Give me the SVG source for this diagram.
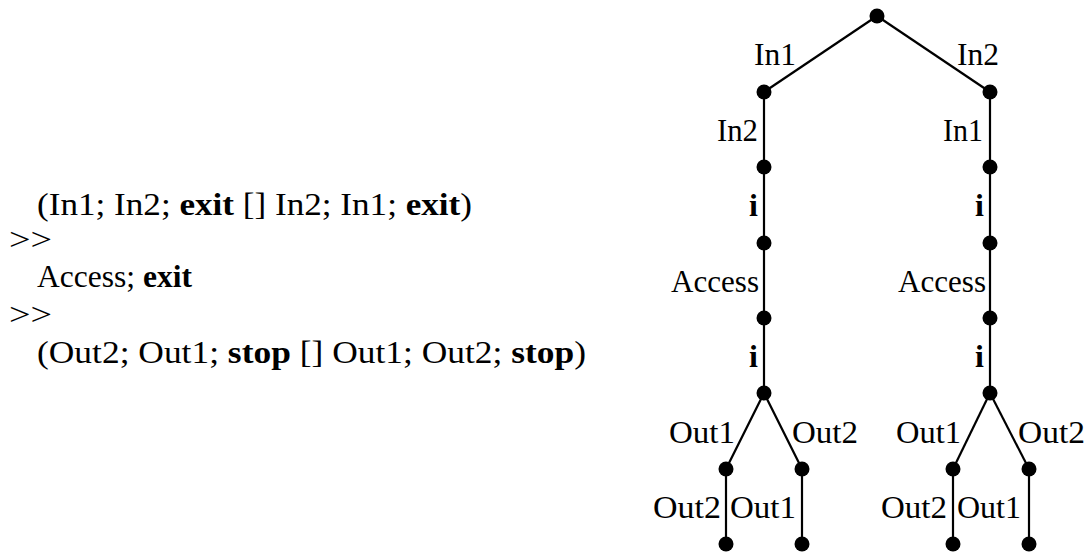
<svg xmlns="http://www.w3.org/2000/svg" width="1089" height="554" viewBox="0 0 1089 554">
<style>
  text { font-family: "Liberation Serif", "Times New Roman", serif; font-size: 32px; fill: #000; }
  .b { font-weight: bold; }
  .edge { stroke: #000; stroke-width: 2.2; fill: none; }
  .dot { fill: #000; }
</style>
<rect width="1089" height="554" fill="#fff"/>
<g id="expression">
  <text x="37" y="215" textLength="435" lengthAdjust="spacingAndGlyphs">(In1; In2; <tspan class="b">exit</tspan> [] In2; In1; <tspan class="b">exit</tspan>)</text>
  <text x="9" y="250" textLength="43" lengthAdjust="spacingAndGlyphs">&gt;&gt;</text>
  <text x="37" y="287" textLength="155" lengthAdjust="spacingAndGlyphs">Access; <tspan class="b">exit</tspan></text>
  <text x="9" y="325" textLength="43" lengthAdjust="spacingAndGlyphs">&gt;&gt;</text>
  <text x="37" y="363" textLength="549" lengthAdjust="spacingAndGlyphs">(Out2; Out1; <tspan class="b">stop</tspan> [] Out1; Out2; <tspan class="b">stop</tspan>)</text>
</g>
<g id="connectors">
  <line class="edge" x1="877" y1="16" x2="764" y2="92"/>
  <line class="edge" x1="877" y1="16" x2="990" y2="92"/>
  <line class="edge" x1="764" y1="92" x2="764" y2="393"/>
  <line class="edge" x1="990" y1="92" x2="990" y2="393"/>
  <line class="edge" x1="764" y1="393" x2="726" y2="469"/>
  <line class="edge" x1="764" y1="393" x2="802" y2="469"/>
  <line class="edge" x1="726" y1="469" x2="726" y2="544"/>
  <line class="edge" x1="802" y1="469" x2="802" y2="544"/>
  <line class="edge" x1="990" y1="393" x2="953" y2="469"/>
  <line class="edge" x1="990" y1="393" x2="1029" y2="469"/>
  <line class="edge" x1="953" y1="469" x2="953" y2="544"/>
  <line class="edge" x1="1029" y1="469" x2="1029" y2="544"/>
</g>
<g id="labels">
  <text x="754" y="65" textLength="42" lengthAdjust="spacingAndGlyphs">In1</text>
  <text x="957" y="65" textLength="42" lengthAdjust="spacingAndGlyphs">In2</text>
  <text x="717" y="141" textLength="41" lengthAdjust="spacingAndGlyphs">In2</text>
  <text x="943" y="141" textLength="40" lengthAdjust="spacingAndGlyphs">In1</text>
  <text class="b" x="758" y="216" text-anchor="end">i</text>
  <text class="b" x="984" y="216" text-anchor="end">i</text>
  <text x="671" y="292" textLength="88" lengthAdjust="spacingAndGlyphs">Access</text>
  <text x="898" y="292" textLength="88" lengthAdjust="spacingAndGlyphs">Access</text>
  <text class="b" x="758" y="367" text-anchor="end">i</text>
  <text class="b" x="984" y="367" text-anchor="end">i</text>
  <text x="669" y="443" textLength="66" lengthAdjust="spacingAndGlyphs">Out1</text>
  <text x="792" y="443" textLength="66" lengthAdjust="spacingAndGlyphs">Out2</text>
  <text x="896" y="443" textLength="65" lengthAdjust="spacingAndGlyphs">Out1</text>
  <text x="1018" y="443" textLength="67" lengthAdjust="spacingAndGlyphs">Out2</text>
  <text x="653" y="518" textLength="68" lengthAdjust="spacingAndGlyphs">Out2</text>
  <text x="730" y="518" textLength="66" lengthAdjust="spacingAndGlyphs">Out1</text>
  <text x="881" y="518" textLength="66" lengthAdjust="spacingAndGlyphs">Out2</text>
  <text x="957" y="518" textLength="64" lengthAdjust="spacingAndGlyphs">Out1</text>
</g>
<g id="n0"><circle class="dot" cx="877" cy="16" r="7.5"/></g>
<g id="nL1"><circle class="dot" cx="764" cy="92" r="7.5"/></g>
<g id="nL2"><circle class="dot" cx="764" cy="167" r="7.5"/></g>
<g id="nL3"><circle class="dot" cx="764" cy="243" r="7.5"/></g>
<g id="nL4"><circle class="dot" cx="764" cy="318" r="7.5"/></g>
<g id="nL5"><circle class="dot" cx="764" cy="393" r="7.5"/></g>
<g id="nL6a"><circle class="dot" cx="726" cy="469" r="7.5"/></g>
<g id="nL6b"><circle class="dot" cx="802" cy="469" r="7.5"/></g>
<g id="nL7a"><circle class="dot" cx="726" cy="544" r="7.5"/></g>
<g id="nL7b"><circle class="dot" cx="802" cy="544" r="7.5"/></g>
<g id="nR1"><circle class="dot" cx="990" cy="92" r="7.5"/></g>
<g id="nR2"><circle class="dot" cx="990" cy="167" r="7.5"/></g>
<g id="nR3"><circle class="dot" cx="990" cy="243" r="7.5"/></g>
<g id="nR4"><circle class="dot" cx="990" cy="318" r="7.5"/></g>
<g id="nR5"><circle class="dot" cx="990" cy="393" r="7.5"/></g>
<g id="nR6a"><circle class="dot" cx="953" cy="469" r="7.5"/></g>
<g id="nR6b"><circle class="dot" cx="1029" cy="469" r="7.5"/></g>
<g id="nR7a"><circle class="dot" cx="953" cy="544" r="7.5"/></g>
<g id="nR7b"><circle class="dot" cx="1029" cy="544" r="7.5"/></g>
</svg>
